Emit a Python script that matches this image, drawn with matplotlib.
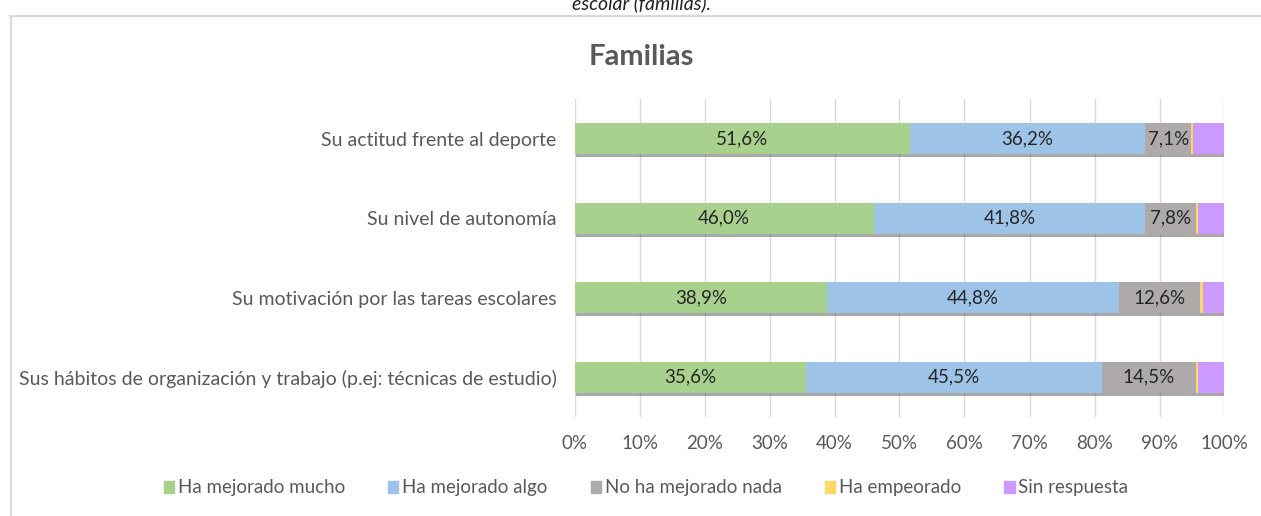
import numpy as np
import matplotlib.pyplot as plt
import matplotlib.patheffects as pe
from matplotlib.lines import Line2D
from matplotlib.patches import Patch

plt.rcParams['font.family'] = ['Lato', 'DejaVu Sans']

categories = ['Su actitud frente al deporte',
              'Su nivel de autonomía',
              'Su motivación por las tareas escolares',
              'Sus hábitos de organización y trabajo (p.ej: técnicas de estudio)']
series = ['Ha mejorado mucho', 'Ha mejorado algo', 'No ha mejorado nada',
          'Ha empeorado', 'Sin respuesta']
mucho = [51.6, 46.0, 38.9, 35.6]
algo = [36.2, 41.8, 44.8, 45.5]
nada = [7.1, 7.8, 12.6, 14.5]
empeorado = [0.3, 0.3, 0.4, 0.4]
sin_resp = [4.8, 4.1, 3.3, 4.0]
colors = ['#a9d18e', '#9dc3e6', '#aeaaaa', '#ffd966', '#cc99ff']
labelled = [True, True, True, False, False]

W, H = 1261, 516
fig = plt.figure(figsize=(W / 100, H / 100), dpi=100)

# frame of the chart box (cut off on the right and bottom)
fig.add_artist(Line2D([10.5 / W, 10.5 / W], [0, 1 - 16 / H], color='#d9d9d9', lw=1.5))
fig.add_artist(Line2D([10 / W, 1], [1 - 16 / H, 1 - 16 / H], color='#d9d9d9', lw=1.5))

# caption from the document, cut by the top edge as in the original page
fig.text(642 / W, 1 - 9 / H, 'escolar (familias).', ha='center', va='baseline',
         fontsize=14, style='italic', color='#222222')

ax = fig.add_axes([574.5 / W, 99 / H, 650 / W, 318 / H])
y = np.arange(len(categories))
data = [mucho, algo, nada, empeorado, sin_resp]
left = np.zeros(len(categories))
shadow = [pe.SimplePatchShadow(offset=(1.2, -2.2), shadow_rgbFace='#404040', alpha=0.45),
          pe.Normal()]
for vals, name, c, lab in zip(data, series, colors, labelled):
    bars = ax.barh(y, vals, left=left, height=0.39, color=c, label=name, zorder=3)
    for b in bars:
        b.set_path_effects(shadow)
    if lab:
        for yi, l, v in zip(y, left, vals):
            ax.text(l + v / 2, yi, f'{v:.1f}%'.replace('.', ','), ha='center', va='center',
                    fontsize=13.5, color='#262626', zorder=5)
    left = left + np.array(vals)

ax.set_xlim(0, 100)
ax.set_ylim(len(categories) - 0.5, -0.5)
ax.set_xticks(np.arange(0, 101, 10))
ax.set_xticklabels([f'{t}%' for t in range(0, 101, 10)])
ax.set_yticks(y)
ax.set_yticklabels(categories)
ax.tick_params(axis='x', length=0, pad=13, labelsize=13.5, labelcolor='#595959')
ax.tick_params(axis='y', length=0, pad=13, labelsize=14, labelcolor='#595959')
ax.grid(axis='x', color='#d9d9d9', lw=1, zorder=0)
for s in ax.spines.values():
    s.set_visible(False)

fig.text(641 / W, 1 - 57 / H, 'Familias', ha='center', va='center', fontsize=21,
         fontweight='bold', color='#595959')

handles = [Patch(color=c) for c in colors]
fig.legend(handles, series, loc='center', bbox_to_anchor=(646 / W, 1 - 488 / H), ncol=5,
           frameon=False, fontsize=13.5, labelcolor='#595959', handlelength=0.55,
           handleheight=0.55, handletextpad=0.2, columnspacing=2.3)

fig.savefig('out.png', dpi=100)
